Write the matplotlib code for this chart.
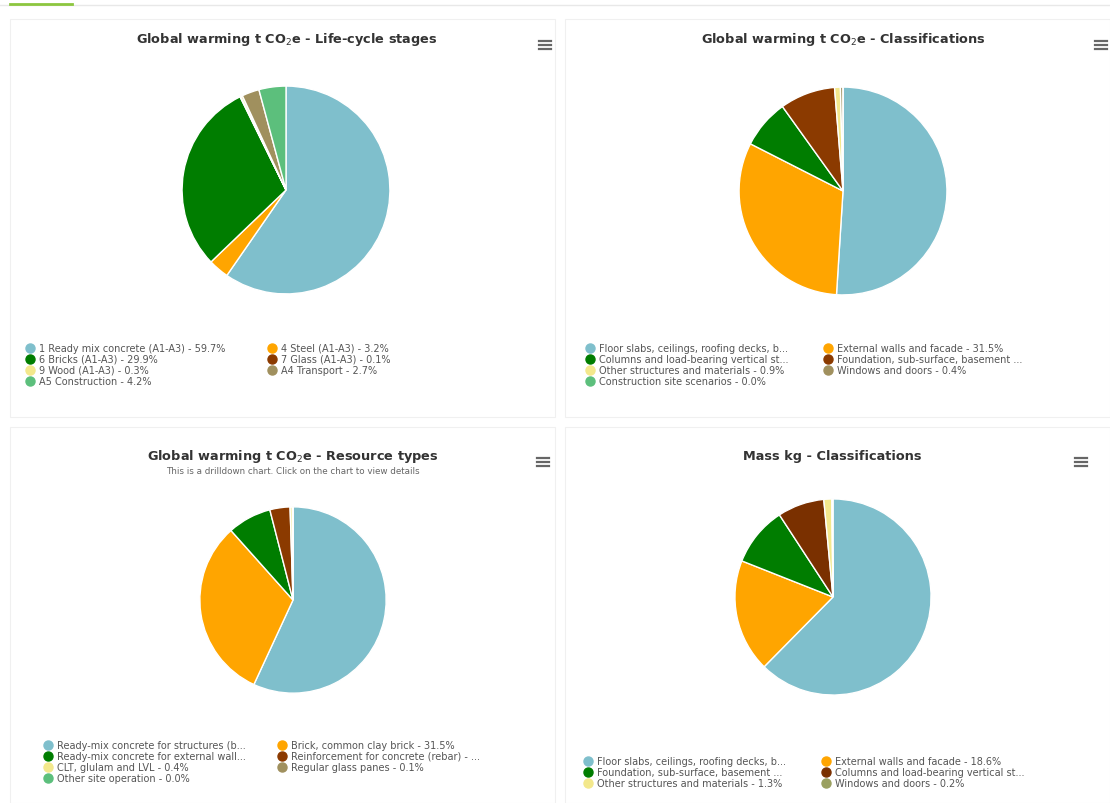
import matplotlib
matplotlib.use("Agg")
import matplotlib.pyplot as plt
from matplotlib.lines import Line2D
from matplotlib.patches import Rectangle

W, H = 1110, 804

# colours shared by all four pies (by slice position)
colors = ["#7fbfcc", "#ffa500", "#007d00", "#8b3a00", "#f3e88c", "#a0905e", "#5cbf7c"]

# Global warming - life-cycle stages
stage_labels = ["1 Ready mix concrete (A1-A3) - 59.7%", "4 Steel (A1-A3) - 3.2%",
                "6 Bricks (A1-A3) - 29.9%", "7 Glass (A1-A3) - 0.1%",
                "9 Wood (A1-A3) - 0.3%", "A4 Transport - 2.7%",
                "A5 Construction - 4.2%"]
stage_values = [59.7, 3.2, 29.9, 0.1, 0.3, 2.7, 4.2]

# Global warming - classifications
class_labels = ["Floor slabs, ceilings, roofing decks, b...", "External walls and facade - 31.5%",
                "Columns and load-bearing vertical st...", "Foundation, sub-surface, basement ...",
                "Other structures and materials - 0.9%", "Windows and doors - 0.4%",
                "Construction site scenarios - 0.0%"]
class_values = [51.0, 31.5, 7.6, 8.6, 0.9, 0.4, 0.0]

# Global warming - resource types
resource_labels = ["Ready-mix concrete for structures (b...", "Brick, common clay brick - 31.5%",
                   "Ready-mix concrete for external wall...", "Reinforcement for concrete (rebar) - ...",
                   "CLT, glulam and LVL - 0.4%", "Regular glass panes - 0.1%",
                   "Other site operation - 0.0%"]
resource_values = [56.9, 31.5, 7.6, 3.5, 0.4, 0.1, 0.0]

# Mass - classifications
mass_labels = ["Floor slabs, ceilings, roofing decks, b...", "External walls and facade - 18.6%",
               "Foundation, sub-surface, basement ...", "Columns and load-bearing vertical st...",
               "Other structures and materials - 1.3%", "Windows and doors - 0.2%"]
mass_values = [62.4, 18.6, 9.8, 7.7, 1.3, 0.2]

mass_colors = ["#7fbfcc", "#ffa500", "#007d00", "#7a3000", "#f3e88c", "#9aa060"]

panels = [
    dict(title=r"Global warming t CO$_2$e - Life-cycle stages", values=stage_values,
         labels=stage_labels, colors=colors, center=(286, 191), r=106,
         title_xy=(287, 40), menu=(545, 46), legend=(30, 272, 349)),
    dict(title=r"Global warming t CO$_2$e - Classifications", values=class_values,
         labels=class_labels, colors=colors, center=(843, 192), r=106,
         title_xy=(843, 40), menu=(1101, 46), legend=(590, 828, 349)),
    dict(title=r"Global warming t CO$_2$e - Resource types", values=resource_values,
         labels=resource_labels, colors=colors, center=(293, 601), r=95,
         title_xy=(293, 457), menu=(543, 463), legend=(48, 282, 746),
         subtitle="This is a drilldown chart. Click on the chart to view details"),
    dict(title="Mass kg - Classifications", values=mass_values,
         labels=mass_labels, colors=mass_colors, center=(833, 598), r=100,
         title_xy=(832, 457), menu=(1081, 463), legend=(588, 826, 762)),
]


def fx(x):
    return x / W


def fy(y):
    return 1 - y / H


fig = plt.figure(figsize=(W / 100, H / 100), dpi=100)

# page frame: top strip and panel borders
fig.add_artist(Line2D([0, 1], [fy(6), fy(6)], color="#e8e8e8", lw=1))
fig.add_artist(Line2D([fx(10), fx(72)], [fy(5), fy(5)], color="#8cc63f", lw=2))
for x0, y0, x1, y1 in [(10, 20, 555, 418), (565, 20, 1110, 418),
                       (10, 428, 555, 804), (565, 428, 1110, 804)]:
    fig.add_artist(Rectangle((fx(x0), fy(y1)), fx(x1) - fx(x0), fy(y0) - fy(y1),
                             fill=False, edgecolor="#f0f0f0", lw=0.8))

for p in panels:
    cx, cy = p["center"]
    r = p["r"]
    ax = fig.add_axes([fx(cx - r), fy(cy + r), 2 * r / W, 2 * r / H])
    ax.pie(p["values"], colors=p["colors"][:len(p["values"])], startangle=90,
           counterclock=False, radius=1,
           wedgeprops=dict(edgecolor="white", linewidth=1))
    ax.set_xlim(-1.02, 1.02)
    ax.set_ylim(-1.02, 1.02)
    ax.axis("off")

    tx, ty = p["title_xy"]
    fig.text(fx(tx), fy(ty), p["title"], ha="center", va="center",
             fontsize=9.3, fontweight="bold", color="#333333")
    if "subtitle" in p:
        fig.text(fx(tx), fy(ty + 15), p["subtitle"], ha="center", va="center",
                 fontsize=6.3, color="#666666")

    # hamburger menu icon
    mx, my = p["menu"]
    for dy in (-4, 0, 4):
        fig.add_artist(Line2D([fx(mx - 6), fx(mx + 6)], [fy(my + dy), fy(my + dy)],
                              color="#666666", lw=1.6))

    # two-column legend, filled row by row
    lx1, lx2, ly = p["legend"]
    for i, (lab, col) in enumerate(zip(p["labels"], p["colors"])):
        x = lx1 if i % 2 == 0 else lx2
        y = ly + (i // 2) * 11
        fig.add_artist(Line2D([fx(x)], [fy(y)], marker="o", markersize=6.5,
                              color=col, markeredgecolor=col))
        fig.text(fx(x + 9), fy(y), lab, ha="left", va="center",
                 fontsize=7, color="#555555")

fig.savefig("out.png", dpi=100)
